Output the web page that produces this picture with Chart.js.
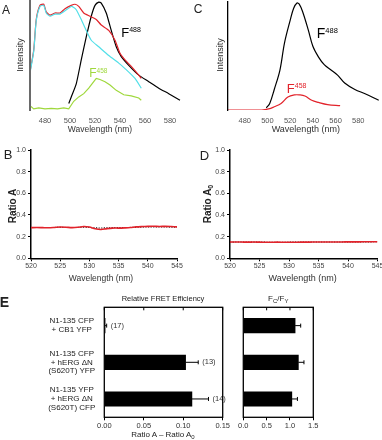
<!DOCTYPE html>
<html><head><meta charset="utf-8">
<script src="https://cdn.jsdelivr.net/npm/chart.js@4.4.0/dist/chart.umd.min.js"></script>
<style>
html,body{margin:0;padding:0;background:#fff;}
#fig{position:relative;width:382px;height:440px;overflow:hidden;font-family:"Liberation Sans",Arial,sans-serif;}
canvas{position:absolute;}
.t{position:absolute;white-space:nowrap;color:#222;line-height:1;}
</style></head><body>
<div id="fig">
<canvas id="cA" width="191" height="140" style="left:0;top:0"></canvas>
<canvas id="cC" width="191" height="140" style="left:191px;top:0"></canvas>
<canvas id="cB" width="191" height="150" style="left:0;top:140px"></canvas>
<canvas id="cD" width="200" height="150" style="left:191px;top:140px"></canvas>
<canvas id="cE1" width="240" height="160" style="left:0;top:280px"></canvas>
<canvas id="cE2" width="152" height="160" style="left:230px;top:280px"></canvas>
</div>
<script>
// ---------- DATA ----------
// Panel A (normalized intensity vs wavelength, nm)
const aTicks = [480,500,520,540,560,580];
const aRedX  = [468,471,473,476,479,481,484,488,492,496,501,504,507,511,516,521,525,531,536,540,544,549,555,557];
const aRedY  = [0.35,0.55,0.83,0.96,0.97,0.90,0.87,0.89,0.89,0.93,0.96,0.97,0.95,0.89,0.86,0.83,0.78,0.73,0.64,0.52,0.46,0.40,0.32,0.29];
const aCyanX = [468,471,473,476,479,481,484,488,492,496,501,503,505,509,513,517,523,531,539,544,552,557];
const aCyanY = [0.34,0.54,0.82,0.95,0.96,0.89,0.86,0.88,0.88,0.91,0.95,0.94,0.92,0.83,0.73,0.64,0.58,0.50,0.43,0.38,0.29,0.20];
const aBlackX = [499,501,505,509,513,517,520,523,525,529,533,537,541,547,555,563,571,579,588];
const aBlackY = [0.06,0.12,0.24,0.46,0.67,0.86,0.96,0.99,0.98,0.89,0.73,0.58,0.49,0.41,0.32,0.26,0.20,0.15,0.09];
const aGreenX = [468,471,475,480,485,490,495,499,503,507,511,515,519,521,524,528,532,537,543,549,555,557];
const aGreenY = [0.04,0.01,0.02,0.01,0.015,0.01,0.02,0.01,0.08,0.12,0.15,0.20,0.26,0.29,0.28,0.26,0.23,0.18,0.14,0.13,0.11,0.09];
// Panel C
const cTicks = [480,500,520,540,560,580];
const cBlackX = [499,502,506,511,515,520,523,526,528,531,536,540,545,550,556,562,568,577,586,598];
const cBlackY = [0.02,0.06,0.19,0.37,0.62,0.83,0.94,0.99,0.98,0.91,0.74,0.59,0.49,0.42,0.37,0.32,0.25,0.19,0.15,0.09];
const cRedX = [465,480,495,501,506,512,518,524,528,533,539,545,553,564];
const cRedY = [0.0,0.0,0.0,0.01,0.03,0.06,0.12,0.14,0.14,0.13,0.09,0.07,0.05,0.04];
// Panels B and D (ratios)
const bdX = [520,521,522,523,524,525,526,527,528,529,530,531,532,533,534,535,536,537,538,539,540,541,542,543,544,545];
const bdXTicks = [520,525,530,535,540,545];
const bdYTicks = [0,0.2,0.4,0.6,0.8,1.0];
const bRed   = [0.283,0.284,0.283,0.282,0.285,0.289,0.287,0.283,0.286,0.294,0.289,0.272,0.266,0.274,0.279,0.279,0.281,0.284,0.290,0.293,0.295,0.296,0.294,0.295,0.293,0.290];
const bBlack = [0.284,0.285,0.284,0.284,0.285,0.286,0.285,0.284,0.285,0.287,0.285,0.281,0.280,0.282,0.283,0.283,0.284,0.285,0.286,0.288,0.289,0.289,0.289,0.289,0.288,0.288];
const dRed   = [0.150,0.151,0.150,0.149,0.150,0.149,0.148,0.148,0.149,0.148,0.148,0.148,0.149,0.149,0.150,0.150,0.150,0.151,0.151,0.151,0.152,0.152,0.152,0.153,0.153,0.153];
const dBlack = [0.149,0.150,0.150,0.150,0.149,0.149,0.149,0.148,0.148,0.148,0.149,0.149,0.149,0.150,0.150,0.150,0.150,0.150,0.151,0.151,0.151,0.152,0.152,0.152,0.152,0.153];
// Panel E
const eCategories = [['N1-135 CFP','+ CB1 YFP'],['N1-135 CFP','+ hERG \u0394N','(S620T) YFP'],['N1-135 YFP','+ hERG \u0394N','(S620T) CFP']];
const eFret    = [0.001,0.103,0.111];
const eFretErr = [0.002,0.016,0.021];
const eCounts  = ['(17)','(13)','(14)'];
const eFretTicks = [0,0.05,0.10,0.15];
const eRatio    = [1.11,1.18,1.04];
const eRatioErr = [0.12,0.12,0.12];
const eRatioTicks = [0,0.5,1.0,1.5];

// ---------- HELPERS ----------
const FAM = '"Liberation Sans", Arial, sans-serif';
const RED = '#e2232b', CYAN = '#52dfe8', GREEN = '#9fd83c';
const zip = (xs, ys) => xs.map((x,i)=>({x, y: ys[i]}));
const fixTicks = arr => s => { s.ticks = arr.map(v=>({value:v})); };
const base = (pad) => ({
  responsive:false, animation:false, events:[],
  layout:{padding:pad},
  plugins:{legend:{display:false}, tooltip:{enabled:false}, title:{display:false}},
  elements:{point:{radius:0}, line:{borderWidth:1.2}}
});
function lineDs(data, color, extra){ return Object.assign({data, borderColor:color, backgroundColor:color, fill:false, pointRadius:0, borderWidth:1.2, tension:0.2}, extra||{}); }

// Spectrum charts (A, C)
function spectrum(id, datasets, xmin, xmax, ticks, yW, pad, axisColor, axisW){
  const o = base(pad);
  o.scales = {
    x:{type:'linear', min:xmin, max:xmax, afterBuildTicks:fixTicks(ticks), afterFit:s=>{s.height=30;},
       grid:{display:false, drawTicks:false}, border:{display:false},
       ticks:{font:{size:7.5,family:FAM}, color:'#555', padding:6, maxRotation:0, autoSkip:false}},
    y:{type:'linear', min:0, max:1, afterFit:s=>{s.width=yW;},
       grid:{display:true, drawOnChartArea:false, drawTicks:false, color:'rgba(0,0,0,0)'},
       border:{display:true, color:axisColor, width:axisW, z:1},
       ticks:{display:false}}
  };
  return new Chart(document.getElementById(id), {type:'line', data:{datasets}, options:o});
}
spectrum('cA', [
  lineDs(zip(aCyanX,aCyanY), CYAN),
  lineDs(zip(aRedX,aRedY), RED),
  lineDs(zip(aGreenX,aGreenY), GREEN, {tension:0}),
  lineDs(zip(aBlackX,aBlackY), '#000')
], 468, 590, aTicks, 30, {left:0,top:1,right:8.5,bottom:0}, '#6a6a6a', 2);
spectrum('cC', [
  lineDs(zip(cRedX,cRedY), RED, {tension:0.35}),
  lineDs(zip(cBlackX,cBlackY), '#000', {tension:0.35})
], 465, 600, cTicks, 36.7, {left:0,top:2,right:1,bottom:0}, '#000', 1.3);

// Ratio charts (B, D)
function ratio(id, red, black, yW, pad){
  const o = base(pad);
  const tickFont = {size:7,family:FAM};
  o.scales = {
    x:{type:'linear', min:520, max:545, afterBuildTicks:fixTicks(bdXTicks), afterFit:s=>{s.height=31.7;},
       grid:{display:true, drawOnChartArea:false, drawTicks:true, tickLength:3, color:'#000', lineWidth:1},
       border:{display:true, color:'#000', width:1.5},
       ticks:{font:tickFont, color:'#444', padding:1, maxRotation:0, autoSkip:false}},
    y:{type:'linear', min:0, max:1, afterBuildTicks:fixTicks(bdYTicks), afterFit:s=>{s.width=yW;},
       grid:{display:true, drawOnChartArea:false, drawTicks:true, tickLength:3, color:'#000', lineWidth:1},
       border:{display:true, color:'#000', width:1.5},
       ticks:{font:tickFont, color:'#444', padding:2, callback:v=>Number(v).toFixed(1)}}
  };
  return new Chart(document.getElementById(id), {type:'line', data:{datasets:[
    lineDs(zip(bdX,red), RED, {borderWidth:1.6, tension:0.3}),
    lineDs(zip(bdX,black), '#111', {borderWidth:1.1, borderDash:[1.2,1.4], tension:0})
  ]}, options:o});
}
ratio('cB', bRed, bBlack, 31, {left:0,top:10,right:14,bottom:0});
ratio('cD', dRed, dBlack, 39, {left:0,top:10,right:13.5,bottom:0});

// Bar charts (E)
function errPlugin(err, counts){
  return {id:'errframe', afterDatasetsDraw(chart){
    const ctx = chart.ctx, xs = chart.scales.x, ys = chart.scales.y, a = chart.chartArea;
    const vals = chart.data.datasets[0].data;
    ctx.save();
    ctx.strokeStyle = '#000'; ctx.lineWidth = 1;
    vals.forEach((v,i)=>{
      const y = ys.getPixelForValue(i);
      const x0 = xs.getPixelForValue(v), x1 = xs.getPixelForValue(v + err[i]);
      ctx.beginPath(); ctx.moveTo(x0,y); ctx.lineTo(x1,y);
      ctx.moveTo(x1,y-2); ctx.lineTo(x1,y+2); ctx.stroke();
      if (counts){
        ctx.fillStyle = '#333'; ctx.font = '7.5px ' + FAM; ctx.textBaseline = 'middle'; ctx.textAlign = 'left';
        ctx.fillText(counts[i], x1 + 4, y);
      }
    });
    ctx.lineWidth = 1.3;
    ctx.strokeRect(a.left, a.top, a.right - a.left, a.bottom - a.top);
    ctx.lineWidth = 1;
    xs.ticks.forEach(t=>{ const x = xs.getPixelForValue(t.value); ctx.beginPath(); ctx.moveTo(x,a.top); ctx.lineTo(x,a.top+3); ctx.stroke(); });
    ctx.restore();
  }};
}
function barChart(id, vals, err, counts, xmax, ticks, dec, yOpts, pad){
  const o = base(pad);
  o.indexAxis = 'y';
  o.scales = {
    x:{type:'linear', min:0, max:xmax, afterBuildTicks:fixTicks(ticks), afterFit:s=>{s.height=22.7;},
       grid:{display:true, drawOnChartArea:false, drawTicks:true, tickLength:3, color:'#000', lineWidth:1},
       border:{display:false},
       ticks:{font:{size:7.5,family:FAM}, color:'#333', padding:1, maxRotation:0, autoSkip:false, callback:v=>Number(v).toFixed(dec)}},
    y: yOpts
  };
  return new Chart(document.getElementById(id), {type:'bar',
    data:{labels:eCategories, datasets:[{data:vals, backgroundColor:'#000', barThickness:14.5}]},
    options:o, plugins:[errPlugin(err, counts)]});
}
barChart('cE1', eFret, eFretErr, eCounts, 0.15, eFretTicks, 2,
  {type:'category', afterFit:s=>{s.width=104.3;}, grid:{display:false, drawTicks:false}, border:{display:false},
   ticks:{font:{size:8,family:FAM,lineHeight:1.12}, color:'#222', crossAlign:'center', padding:9}},
  {left:0,top:27.3,right:17.3,bottom:0});
barChart('cE2', eRatio, eRatioErr, null, 1.5, eRatioTicks, 1,
  {type:'category', display:false},
  {left:13.3,top:27.3,right:68.7,bottom:0});

// ---------- TEXT ----------
const fig = document.getElementById('fig');
function txt(html, cx, cy, size, opt){
  opt = opt || {};
  const d = document.createElement('div');
  d.className = 't';
  d.innerHTML = html;
  d.style.left = cx + 'px'; d.style.top = cy + 'px';
  d.style.fontSize = size + 'px';
  if (opt.bold) d.style.fontWeight = 'bold';
  if (opt.color) d.style.color = opt.color;
  d.style.transform = 'translate(-50%,-50%)' + (opt.rot ? ' rotate(-90deg)' : '');
  fig.appendChild(d);
}
const sup = (b, s, fs, ss, raise) => `<span style="font-size:${fs}px">${b}</span><span style="font-size:${ss}px;vertical-align:${raise}px">${s}</span>`;
const sub = (s, fs) => `<span style="font-size:${fs}px;vertical-align:-2px">${s}</span>`;
// panel letters
txt('A', 6, 10, 12);
txt('C', 198, 9, 12);
txt('B', 8, 154, 13);
txt('D', 204.5, 155, 13);
txt('E', 4.5, 302, 14, {bold:true});
// A
txt('Intensity', 20.3, 55, 9, {rot:true, color:'#333'});
txt('Wavelength (nm)', 100, 128.5, 8.5, {color:'#333'});
txt(sup('F','488',13,7,4.3), 131, 32, 13, {color:'#000'});
txt(sup('F','458',12,6.5,4), 98.3, 72.5, 12, {color:GREEN});
// C
txt('Intensity', 219.7, 55, 9, {rot:true, color:'#333'});
txt('Wavelength (nm)', 305.8, 128.5, 9, {color:'#333'});
txt(sup('F','488',14,7.5,4.6), 327.3, 33.3, 14, {color:'#000'});
txt(sup('F','458',13,7,4.3), 296.7, 88, 13, {color:RED});
// B, D
txt('Ratio A', 12.5, 206, 10, {rot:true, bold:true, color:'#222'});
txt('Wavelength (nm)', 101, 277.5, 8.5, {color:'#333'});
txt('Ratio A' + sub('0',7), 208, 204, 10, {rot:true, bold:true, color:'#222'});
txt('Wavelength (nm)', 302.7, 277.5, 9, {color:'#333'});
// E
txt('Relative FRET Efficiency', 163, 299.3, 7.5, {color:'#222'});
txt('Ratio A \u2013 Ratio A' + sub('0',6), 163, 435, 8, {color:'#222'});
txt('F' + sub('C',6) + '/F' + sub('Y',6), 278.3, 299, 8, {color:'#222'});
</script>
</body></html>
